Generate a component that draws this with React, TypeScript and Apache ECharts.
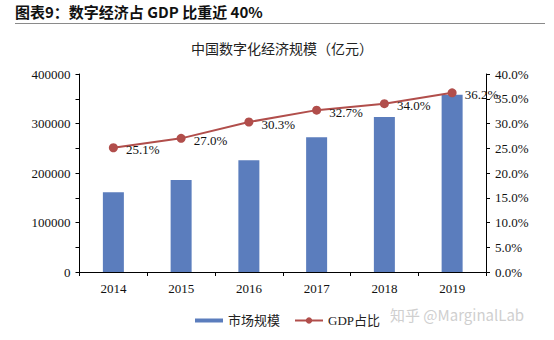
import React, { useEffect, useRef } from "react";
import * as echarts from "echarts";

const years = ["2014", "2015", "2016", "2017", "2018", "2019"];
const marketSize = [161000, 186000, 226000, 272000, 313000, 358000];
const gdpShare = [25.1, 27.0, 30.3, 32.7, 34.0, 36.2];

const headerTitle = "图表9：数字经济占 GDP 比重近 40%";
const chartTitle = "中国数字化经济规模（亿元）";
const watermark = "知乎 @MarginalLab";

const serif = "'Liberation Serif', 'Times New Roman', 'Noto Sans CJK SC', serif";

export default function App() {
  const ref = useRef<HTMLDivElement>(null);
  useEffect(() => {
    if (!ref.current) return;
    const chart = echarts.init(ref.current, undefined, { renderer: "svg" });
    chart.setOption({
      animation: false,
      backgroundColor: "#ffffff",
      graphic: [
        {
          type: "text",
          left: 15,
          top: 4,
          style: {
            text: headerTitle,
            font: "bold 15px 'Noto Sans CJK SC', sans-serif",
            fill: "#111",
          },
        },
        {
          type: "line",
          shape: { x1: 15, y1: 23.5, x2: 545, y2: 23.5 },
          style: { stroke: "#8a8a8a", lineWidth: 1 },
        },
        {
          type: "text",
          left: 390,
          top: 307,
          style: {
            text: watermark,
            font: "15px 'Noto Sans CJK SC', sans-serif",
            fill: "#cfcfcf",
          },
        },
      ],
      title: {
        text: chartTitle,
        left: 277,
        textAlign: "center",
        top: 37,
        textStyle: { fontFamily: serif, fontSize: 14, fontWeight: "normal", color: "#222" },
      },
      legend: {
        left: 190,
        top: 309,
        itemGap: 14,
        itemWidth: 28,
        itemHeight: 8,
        textStyle: { fontFamily: serif, fontSize: 13, color: "#222" },
        data: [
          { name: "市场规模", icon: "path://M0,0h28v4h-28z" },
          { name: "GDP占比" },
        ],
      },
      grid: { left: 79.5, right: 68, top: 74, bottom: 68 },
      xAxis: {
        type: "category",
        data: years,
        boundaryGap: true,
        axisLine: { lineStyle: { color: "#000", width: 1 } },
        axisTick: { show: true, length: 4, lineStyle: { color: "#000" } },
        axisLabel: { fontFamily: serif, fontSize: 13, color: "#111", margin: 10 },
      },
      yAxis: [
        {
          type: "value",
          min: 0,
          max: 400000,
          interval: 50000,
          axisLine: { show: true, lineStyle: { color: "#000", width: 1 } },
          axisTick: { show: true, length: 4, lineStyle: { color: "#000" } },
          splitLine: { show: false },
          axisLabel: {
            fontFamily: serif,
            fontSize: 13,
            color: "#111",
            margin: 9,
            formatter: (v: number) => (v % 100000 === 0 ? String(v) : ""),
          },
        },
        {
          type: "value",
          min: 0,
          max: 40,
          interval: 5,
          position: "right",
          axisLine: { show: true, lineStyle: { color: "#000", width: 1 } },
          axisTick: { show: true, length: 4, lineStyle: { color: "#000" } },
          splitLine: { show: false },
          axisLabel: {
            fontFamily: serif,
            fontSize: 13,
            color: "#111",
            margin: 9,
            formatter: (v: number) => v.toFixed(1) + "%",
          },
        },
      ],
      series: [
        {
          name: "市场规模",
          type: "bar",
          data: marketSize,
          barWidth: 21,
          itemStyle: { color: "#5B7DBD" },
        },
        {
          name: "GDP占比",
          type: "line",
          yAxisIndex: 1,
          data: gdpShare,
          symbol: "circle",
          symbolSize: 9,
          lineStyle: { color: "#B14E4B", width: 2 },
          itemStyle: { color: "#B14E4B" },
          label: {
            show: true,
            position: "right",
            distance: 5,
            offset: [3, 2],
            fontFamily: serif,
            fontSize: 13,
            color: "#111",
            formatter: (p: any) => p.value.toFixed(1) + "%",
          },
        },
      ],
    });
    return () => chart.dispose();
  }, []);
  return (
    <div
      ref={ref}
      style={{ position: "fixed", left: 0, top: 0, width: 554, height: 340 }}
    />
  );
}
